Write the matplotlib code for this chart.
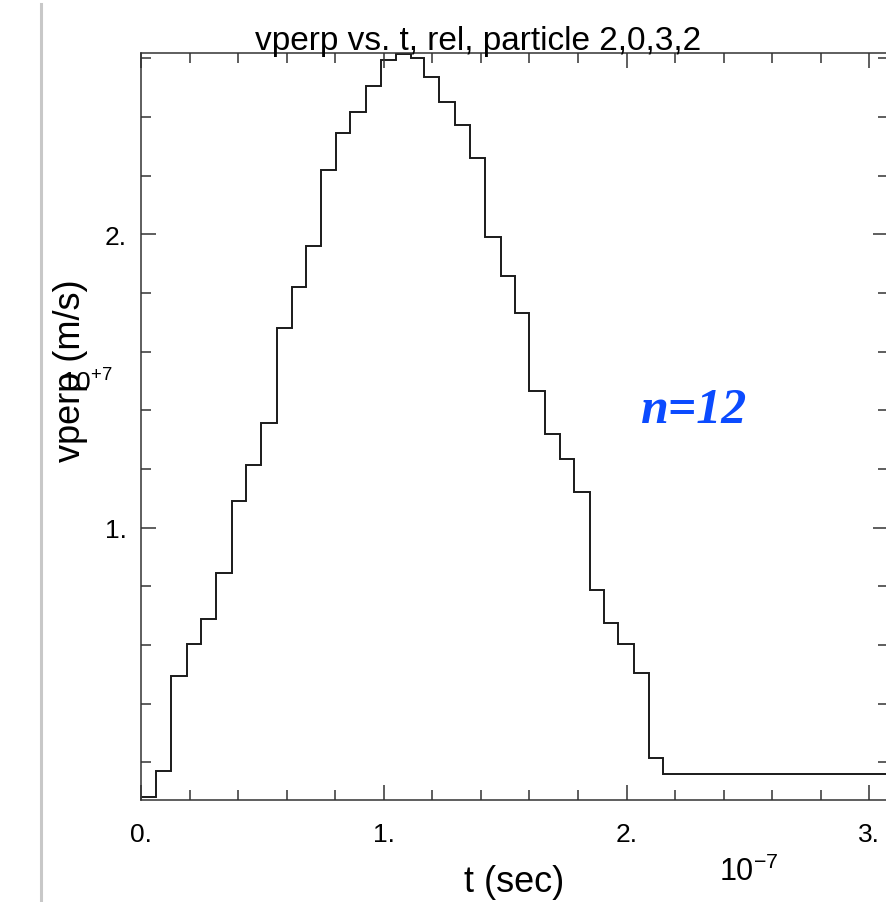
import numpy as np
import matplotlib
matplotlib.use("Agg")
import matplotlib.pyplot as plt
from matplotlib.ticker import MultipleLocator, FuncFormatter
from matplotlib.lines import Line2D

plt.rcParams['font.family'] = ['Liberation Sans', 'DejaVu Sans']
plt.rcParams['mathtext.fontset'] = 'custom'
plt.rcParams['mathtext.rm'] = 'Liberation Sans'

# step data (t in 1e-7 s, vperp in 1e7 m/s)
t_scale = 1e-7
v_scale = 1e7
t_edges = [0, 0.0618, 0.1236, 0.1907, 0.2471, 0.3089, 0.3736, 0.4337, 0.4930,
           0.5589, 0.6207, 0.6783, 0.7426, 0.8019, 0.8608, 0.9279, 0.9885,
           1.0490, 1.1108, 1.1676, 1.2294, 1.2953, 1.3550, 1.4168, 1.4815,
           1.5404, 1.5993, 1.6639, 1.7257, 1.7834, 1.8493, 1.9082, 1.9659,
           2.0305, 2.0935, 2.1512, 3.10]
vperp = [0.084, 0.171, 0.494, 0.604, 0.689, 0.847, 1.092, 1.214, 1.356,
         1.679, 1.821, 1.959, 2.219, 2.344, 2.415, 2.504, 2.595, 2.614,
         2.600, 2.536, 2.449, 2.372, 2.259, 1.989, 1.859, 1.732, 1.467,
         1.318, 1.234, 1.121, 0.788, 0.674, 0.604, 0.504, 0.215, 0.161]

t_edges = np.array(t_edges) * t_scale
vperp = np.array(vperp) * v_scale

W, H = 886, 903
fig = plt.figure(figsize=(W / 100, H / 100), dpi=100)
ax = fig.add_axes([141 / W, 1 - 801 / H, 747 / W, 747 / H])

ax.stairs(vperp, t_edges, baseline=None, color='#1a1a1a', linewidth=1.4)

ax.set_xlim(0, 3.0766 * t_scale)
ax.set_ylim(0.0722 * v_scale, 2.6174 * v_scale)

ax.xaxis.set_major_locator(MultipleLocator(1 * t_scale))
ax.xaxis.set_minor_locator(MultipleLocator(0.2 * t_scale))
ax.yaxis.set_major_locator(MultipleLocator(1 * v_scale))
ax.yaxis.set_minor_locator(MultipleLocator(0.2 * v_scale))
ax.xaxis.set_major_formatter(FuncFormatter(lambda v, p: "%d." % round(v / t_scale)))
ax.yaxis.set_major_formatter(FuncFormatter(lambda v, p: "%d." % round(v / v_scale)))

ax.tick_params(which='both', direction='in', top=True, right=True,
               width=1.1, color='#333333')
ax.tick_params(which='major', length=10.5)
ax.tick_params(which='minor', length=7)
ax.tick_params(axis='x', which='major', labelsize=19, pad=16)
ax.tick_params(axis='y', which='major', labelsize=19, pad=10)
for s in ax.spines.values():
    s.set_linewidth(1.1)
    s.set_color('#333333')

ax.set_xlabel("t (sec)", fontsize=26, labelpad=13)
fig.text(70 / W, 1 - 371 / H, "vperp (m/s)", rotation=90, ha='center',
         va='center', fontsize=26)
fig.text(478 / W, 1 - 50 / H, "vperp vs. t, rel, particle 2,0,3,2",
         ha='center', va='baseline', fontsize=24)

# exponent labels
fig.text(719 / W, 1 - 881 / H, r'$\mathregular{10^{-7}}$', ha='left',
         va='baseline', fontsize=22)
fig.text(61 / W, 1 - 392 / H, r'$\mathregular{10^{+7}}$', ha='left',
         va='baseline', fontsize=19)

ax.text(641 / W, 1 - 423 / H, "n=12", transform=fig.transFigure,
        color='#0b4bff', fontsize=36, fontweight='bold', fontstyle='italic',
        family=['Liberation Serif', 'DejaVu Serif'], va='baseline')

# grey frame edge at the left of the screenshot
fig.add_artist(Line2D([41 / W, 41 / W], [0, 1 - 5 / H], color='#c8c8c8',
                      linewidth=2.2, transform=fig.transFigure))

fig.savefig("out.png", dpi=100)
